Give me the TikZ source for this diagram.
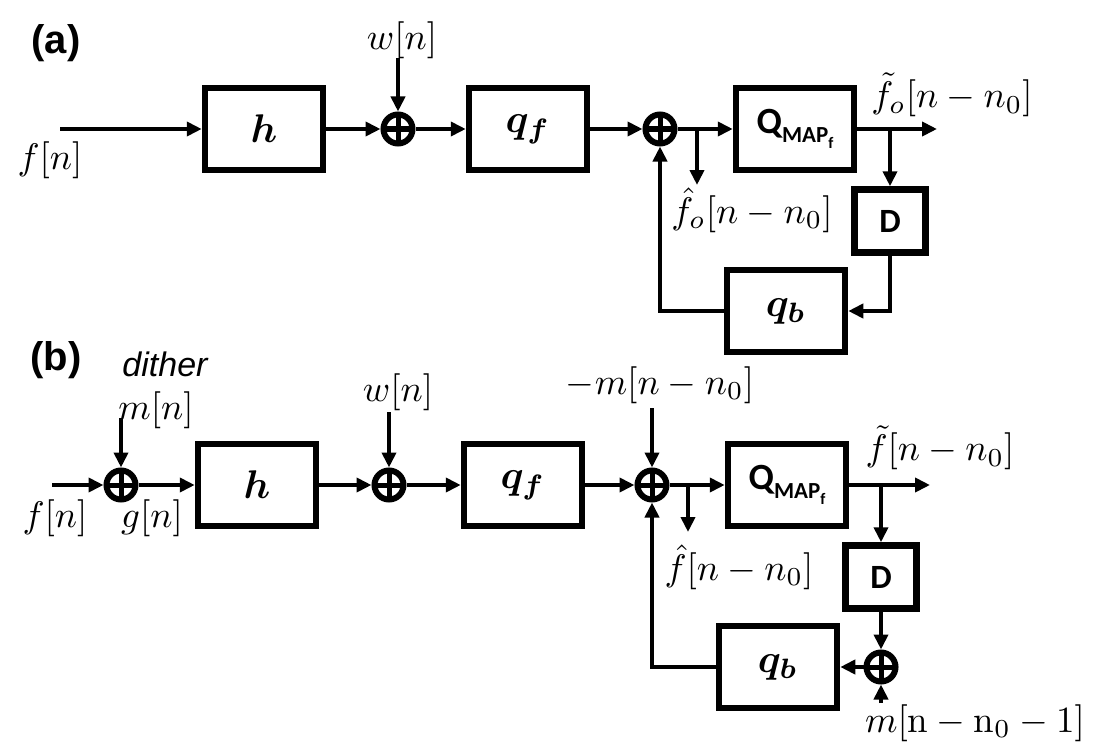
\documentclass[tikz,border=0pt]{standalone}
\usepackage{fontspec}
\usepackage{amsmath,bm,graphicx}
\usetikzlibrary{arrows.meta}
\newfontfamily\arialf{Liberation Sans}
\newfontfamily\calf{Carlito}
\newcommand\MyLab[1]{\scalebox{3.7}{$#1$}}
\newcommand\BoxLab[1]{\scalebox{4.0}{$#1$}}
\newcommand\QmapLab{{\calf\bfseries\fontsize{37}{37}\selectfont Q\raisebox{-9pt}{\fontsize{23}{23}\selectfont MAP\raisebox{-6pt}{\fontsize{16}{16}\selectfont f}}}}
\tikzset{
  blk/.style={draw, line width=6.5pt, inner sep=0pt, minimum width=118pt, minimum height=82pt},
  dblk/.style={draw, line width=6.5pt, inner sep=0pt, minimum width=71pt, minimum height=63pt, font=\calf\bfseries\fontsize{34}{34}\selectfont},
  sum/.style={circle, draw, line width=6pt, minimum size=29pt, inner sep=0pt,
    path picture={\draw[line width=5pt] (path picture bounding box.north) -- (path picture bounding box.south)
      (path picture bounding box.west) -- (path picture bounding box.east);}},
  conn/.style={line width=4.5pt, -{Triangle[length=15pt,width=14pt]}},
  lbl/.style={inner sep=0pt},
  plab/.style={inner sep=0pt, font=\arialf\bfseries\fontsize{40}{40}\selectfont},
}
\begin{document}
\begin{tikzpicture}[x=1pt,y=-1pt]
\useasboundingbox (0,0) rectangle (1102,749);
% ---------------- panel (a)
\node[plab] (la) at (56,43) {(a)};
\node[blk] (ha) at (264,129) {\BoxLab{\bm{h}}};
\node[sum] (sa1) at (398,129) {};
\node[blk] (qfa) at (528,129) {\BoxLab{\bm{q_f}}};
\node[sum] (sa2) at (660,129) {};
\node[blk] (qma) at (795,129) {\QmapLab};
\node[dblk] (Da) at (890,221) {D};
\node[blk] (qba) at (786,311) {\BoxLab{\bm{q_b}}};

\coordinate (ina) at (60,129);
\coordinate (wa) at (398,58);
\coordinate (ba1) at (697,129);
\coordinate (ba1e) at (697,185);
\coordinate (ba2) at (890,129);
\coordinate (oa) at (937,129);

\draw[conn] (ina) -- (ha.west);
\draw[conn] (ha.east) -- (sa1.west);
\draw[conn] (wa) -- (sa1.north);
\draw[conn] (sa1.east) -- (qfa.west);
\draw[conn] (qfa.east) -- (sa2.west);
\draw[conn] (sa2.east) -- (qma.west);
\draw[conn] (ba1) -- (ba1e);
\draw[conn] (qma.east) -- (oa);
\draw[conn] (ba2) -- (Da.north);
\draw[conn] (Da.south) |- (qba.east);
\draw[conn] (qba.west) -| (sa2.south);

\node[lbl] (fa) at (50,160) {\MyLab{f[n]}};
\node[lbl] (wla) at (402,40) {\MyLab{w[n]}};
\node[lbl] (fta) at (952,95) {\MyLab{\tilde{f}_o[n-n_0]}};
\node[lbl] (fha) at (752,210) {\MyLab{\hat{f}_o[n-n_0]}};

% ---------------- panel (b)
\node[plab] (lb) at (56,360) {(b)};
\node[lbl, font=\arialf\itshape\fontsize{34}{34}\selectfont] (dith) at (165,364) {dither};
\node[sum] (sb0) at (121,485) {};
\node[blk] (hb) at (257,485) {\BoxLab{\bm{h}}};
\node[sum] (sb1) at (389,485) {};
\node[blk] (qfb) at (523,485) {\BoxLab{\bm{q_f}}};
\node[sum] (sb2) at (652,485) {};
\node[blk] (qmb) at (787,485) {\QmapLab};
\node[dblk] (Db) at (881,577) {D};
\node[sum] (sb3) at (881,667) {};
\node[blk] (qbb) at (778,667) {\BoxLab{\bm{q_b}}};

\coordinate (inb) at (52,485);
\coordinate (mb) at (121,418);
\coordinate (wb) at (389,412);
\coordinate (mmb) at (652,408);
\coordinate (bb1) at (688,485);
\coordinate (bb1e) at (688,532);
\coordinate (bb2) at (881,485);
\coordinate (ob) at (930,485);
\coordinate (mlb) at (881,703);

\draw[conn] (inb) -- (sb0.west);
\draw[conn] (mb) -- (sb0.north);
\draw[conn] (sb0.east) -- (hb.west);
\draw[conn] (hb.east) -- (sb1.west);
\draw[conn] (wb) -- (sb1.north);
\draw[conn] (sb1.east) -- (qfb.west);
\draw[conn] (qfb.east) -- (sb2.west);
\draw[conn] (mmb) -- (sb2.north);
\draw[conn] (sb2.east) -- (qmb.west);
\draw[conn] (bb1) -- (bb1e);
\draw[conn] (qmb.east) -- (ob);
\draw[conn] (bb2) -- (Db.north);
\draw[conn] (Db.south) -- (sb3.north);
\draw[conn] (mlb) -- (sb3.south);
\draw[conn] (sb3.west) -- (qbb.east);
\draw[conn] (qbb.west) -| (sb2.south);

\node[lbl] (mlab) at (156,410) {\MyLab{m[n]}};
\node[lbl] (fb) at (55,518) {\MyLab{f[n]}};
\node[lbl] (gb) at (152,518) {\MyLab{g[n]}};
\node[lbl] (wlb) at (398,392) {\MyLab{w[n]}};
\node[lbl] (mmlab) at (660,385) {\MyLab{-m[n-n_0]}};
\node[lbl] (ftb) at (940,448) {\MyLab{\tilde{f}[n-n_0]}};
\node[lbl] (fhb) at (739,567) {\MyLab{\hat{f}[n-n_0]}};
\node[lbl] (mlast) at (975,723) {\MyLab{m[\mathrm{n}-\mathrm{n}_0-1]}};
\end{tikzpicture}
\end{document}
